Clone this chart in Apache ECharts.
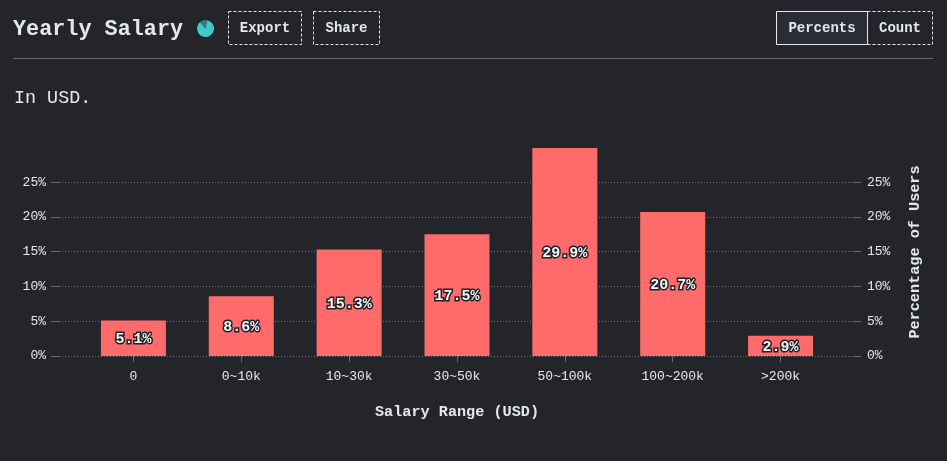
<!DOCTYPE html>
<html>
<head>
<meta charset='utf-8'>
<title>Yearly Salary</title>
<script src='https://cdn.jsdelivr.net/npm/echarts@6/dist/echarts.min.js'></script>
<style>
html, body { margin: 0; padding: 0; background: #24252b; }
#main { width: 947px; height: 461px; }
</style>
</head>
<body>
<div id='main'></div>
<script type='text/javascript'>
var categories = ['0', '0~10k', '10~30k', '30~50k', '50~100k', '100~200k', '>200k'];
var percents = [5.1, 8.6, 15.3, 17.5, 29.9, 20.7, 2.9];
var yTicks = [0, 5, 10, 15, 20, 25];
var iconSlices = [86, 14];

var mono = '"Liberation Mono", "DejaVu Sans Mono", monospace';
var bg = '#24252b';
var textColor = '#e4e8ec';
var lineColor = '#6a6b70';

function button(x, y, w, h, label, dash, fill) {
    return [
        {
            type: 'rect',
            shape: { x: x + 0.5, y: y + 0.5, width: w, height: h },
            style: { fill: fill || 'transparent', stroke: '#e8e8e8', lineWidth: 1, lineDash: dash ? [3, 2] : null }
        },
        {
            type: 'text',
            x: x + w / 2 + 0.5,
            y: y + h / 2 + 1,
            style: { text: label, fill: textColor, font: 'bold 14px ' + mono, align: 'center', verticalAlign: 'middle' }
        }
    ];
}

function yAxis(gridIndex, position) {
    return {
        type: 'value',
        gridIndex: gridIndex,
        position: position,
        min: 0,
        max: 29.9,
        interval: 5,
        axisLine: { show: false },
        axisTick: { show: true, length: 8, customValues: yTicks, lineStyle: { color: lineColor } },
        axisLabel: {
            customValues: yTicks,
            color: textColor,
            fontFamily: mono,
            fontSize: 13,
            margin: 13,
            padding: [2, 0, 0, 0],
            formatter: '{value}%'
        },
        splitLine: { show: true, lineStyle: { color: '#77787c', type: [1, 2], width: 1 } }
    };
}

var rightAxis = yAxis(0, 'right');
rightAxis.name = 'Percentage of Users';
rightAxis.nameLocation = 'middle';
rightAxis.nameRotate = 90;
rightAxis.nameGap = 55;
rightAxis.nameTextStyle = { color: textColor, fontFamily: mono, fontSize: 15.2, fontWeight: 'bold' };
rightAxis.axisLabel.margin = 14;
rightAxis.splitLine = { show: false };

var myChart = echarts.init(document.getElementById('main'));
myChart.setOption({
    backgroundColor: bg,
    animation: false,
    grid: [
        { left: 59, right: 94, top: 148, height: 208 },
        { left: 79.5, right: 112.5, top: 148, height: 208 }
    ],
    xAxis: [
        { type: 'value', gridIndex: 0, show: false, min: 0, max: 1 },
        {
            type: 'category',
            gridIndex: 1,
            data: categories,
            name: 'Salary Range (USD)',
            nameLocation: 'middle',
            nameGap: 49,
            nameTextStyle: { color: textColor, fontFamily: mono, fontSize: 15.2, fontWeight: 'bold' },
            axisLine: { show: false },
            axisTick: { show: true, alignWithLabel: true, length: 6, lineStyle: { color: lineColor } },
            axisLabel: { color: textColor, fontFamily: mono, fontSize: 13, margin: 14, interval: 0 }
        }
    ],
    yAxis: [
        yAxis(0, 'left'),
        rightAxis,
        { type: 'value', gridIndex: 1, show: false, min: 0, max: 29.9 }
    ],
    series: [
        {
            type: 'bar',
            xAxisIndex: 1,
            yAxisIndex: 2,
            data: percents,
            barWidth: 65,
            itemStyle: { color: '#ff6b6b' },
            label: {
                show: true,
                position: 'inside',
                offset: [0, 1],
                formatter: '{c}%',
                color: '#f4f7f7',
                fontFamily: mono,
                fontSize: 15,
                fontWeight: 'bold',
                textBorderColor: '#1c2024',
                textBorderWidth: 3
            }
        },
        {
            type: 'pie',
            center: [205.5, 28.5],
            radius: [0, 8.5],
            silent: true,
            label: { show: false },
            labelLine: { show: false },
            startAngle: 80,
            data: iconSlices.map(function (v, i) {
                return { value: v, itemStyle: { color: i === 0 ? '#41c9c9' : '#2f7f80', borderWidth: 0 } };
            })
        }
    ],
    graphic: [
        { type: 'text', x: 13, y: 30, style: { text: 'Yearly Salary', fill: textColor, font: 'bold 21.8px ' + mono, verticalAlign: 'middle' } },
        { type: 'text', x: 14, y: 98, style: { text: 'In USD.', fill: textColor, font: '18.4px ' + mono, verticalAlign: 'middle' } },
        { type: 'line', shape: { x1: 13, y1: 58.5, x2: 933, y2: 58.5 }, style: { stroke: lineColor, lineWidth: 1 } }
    ]
        .concat(button(228, 11, 73, 33, 'Export', true))
        .concat(button(313, 11, 66, 33, 'Share', true))
        .concat(button(867, 11, 65, 33, 'Count', true))
        .concat(button(776, 11, 91, 33, 'Percents', false, '#2b2d35'))
});
</script>
</body>
</html>
